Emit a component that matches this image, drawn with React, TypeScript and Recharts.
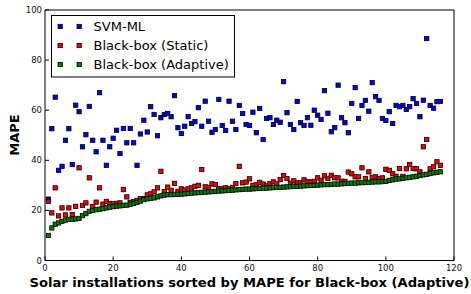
import React from 'react';
import {
  ScatterChart,
  Scatter,
  XAxis,
  YAxis,
  CartesianGrid,
  ReferenceArea,
} from 'recharts';

// x positions: installations sorted by MAPE for Black-box (Adaptive)
const installationIndex: number[] = Array.from({ length: 116 }, (_, i) => i + 1);

const svmML: number[] = [
  24.5, 52.6, 65.2, 36, 37.6, 48, 52.6, 38.3, 62, 59.4,
  45.4, 50.2, 61.5, 48, 43.4, 67, 48, 38, 45.4, 48.8,
  52, 42.7, 52.7, 47, 52.7, 47, 38, 50.5, 56, 51.3,
  61.4, 58.3, 49.8, 57, 58.3, 58.7, 57.4, 65.8, 53, 50.7,
  53.6, 57.4, 54.7, 55.4, 61, 53.6, 63.6, 55.6, 51.2, 52.3,
  64.3, 53.9, 51.9, 63.6, 55.6, 52.3, 61.9, 58.7, 54.3, 53.9,
  59.2, 51, 60.7, 48.3, 56.7, 57, 54.3, 56, 55.2, 71.4,
  59, 54.3, 52.3, 63.5, 55, 53.9, 57, 54, 60, 58,
  56.3, 67.8, 58.8, 51.4, 53, 70, 57, 55, 51, 62.7,
  69, 56.7, 61.9, 63.9, 59.6, 71, 65.4, 63.9, 56.7, 55.9,
  59.4, 54.7, 61.9, 61.4, 61.9, 60.3, 61.4, 64.6, 62.7, 57.4,
  64, 88.6, 61.9, 60.8, 63.4, 63.5,
];

const blackBoxStatic: number[] = [
  23.6, 19, 29, 17.8, 21, 18.2, 21, 18.3, 21.6, 37,
  22, 23, 33, 21.5, 23.3, 29, 22.5, 23.6, 22.8, 22.6,
  22.8, 23, 28.3, 25.4, 23.2, 23.5, 24, 24.7, 24.7, 26.2,
  26.6, 27.4, 29, 35.6, 27.5, 29.3, 28, 30.8, 27.6, 28.6,
  28.1, 28.6, 29, 29.6, 30, 36.3, 29.4, 29.2, 30.6, 30.3,
  28.7, 28.7, 29, 28.6, 29.2, 30.7, 37.6, 31, 31.3, 32.6,
  30, 30.2, 31.2, 30.5, 29.8, 30.7, 31.4, 30.6, 32.3, 33.9,
  32.7, 30.8, 31.8, 31, 31, 32.2, 31.4, 31.4, 31.6, 33,
  32, 33.8, 32.8, 34, 33, 33, 31.6, 31.6, 35.3, 34.6,
  33.4, 33.4, 37, 32.7, 35.4, 33.2, 33.4, 32.6, 33, 36.4,
  36, 34.6, 33.6, 36.7, 33.6, 36.6, 38.3, 36.7, 36.6, 35.4,
  45.4, 48.3, 36.6, 37.4, 39.4, 38,
];

const blackBoxAdaptive: number[] = [
  10, 13, 14.5, 15, 15.6, 16.1, 16.4, 16.5, 16.6, 16.8,
  17.9, 18.7, 19.6, 20, 20.3, 20.5, 20.7, 21, 21.3, 21.5,
  21.7, 21.8, 22, 22.1, 22.4, 22.8, 23.2, 23.7, 24.3, 24.6,
  24.8, 25, 25.4, 25.8, 26.1, 26.3, 26.3, 26.4, 26.4, 26.5,
  26.6, 26.8, 26.9, 27, 27.1, 27.2, 27.3, 27.4, 27.5, 27.6,
  27.7, 27.8, 27.9, 28, 28.1, 28.2, 28.3, 28.4, 28.5, 28.5,
  28.6, 28.7, 28.8, 28.9, 28.9, 29, 29.1, 29.2, 29.2, 29.3,
  29.4, 29.5, 29.6, 29.6, 29.7, 29.8, 29.9, 30, 30, 30.1,
  30.2, 30.3, 30.3, 30.4, 30.5, 30.5, 30.6, 30.7, 30.8, 30.9,
  30.9, 31, 31.1, 31.1, 31.2, 31.3, 31.4, 31.4, 31.5, 31.6,
  32, 32.2, 32.5, 32.6, 32.8, 33, 33.2, 33.4, 33.6, 33.9,
  34.2, 34.4, 34.7, 35, 35.2, 35.4,
];

const xTicks = [0, 20, 40, 60, 80, 100, 120];
const yTicks = [0, 20, 40, 60, 80, 100];

const seriesNames = ['SVM-ML', 'Black-box (Static)', 'Black-box (Adaptive)'];
const seriesColors = ['#0000ff', '#ff0000', '#008000'];

const toPoints = (vals: number[]) =>
  vals.map((v, i) => ({ x: installationIndex[i], y: v }));

const FONT = '"DejaVu Sans", sans-serif';
const SQ = 4.3;

const makeSquare = (color: string) => (props: any) => {
  const { cx, cy } = props;
  if (cx == null || cy == null) return <g />;
  return (
    <rect
      x={cx - SQ / 2}
      y={cy - SQ / 2}
      width={SQ}
      height={SQ}
      fill={color}
      stroke="#000"
      strokeWidth={0.8}
    />
  );
};

const emptyTick = () => <g />;

export default function App() {
  const W = 471;
  const H = 294;
  const tickStyle = { fontSize: 8.5, fontFamily: FONT, fill: '#111' };
  return (
    <div style={{ position: 'absolute', left: 0, top: 0, width: W, height: H, background: '#fff' }}>
      <ScatterChart
        width={W}
        height={H}
        margin={{ top: 10, right: 17, bottom: 0, left: 0 }}
      >
        <CartesianGrid
          stroke="#333"
          strokeDasharray="1 2"
          strokeWidth={0.7}
          horizontalValues={yTicks}
          verticalValues={xTicks}
        />
        <XAxis
          type="number"
          dataKey="x"
          xAxisId="b"
          domain={[0, 120]}
          ticks={xTicks}
          height={33.5}
          tickSize={-4}
          tickMargin={8}
          axisLine={false}
          tickLine={{ stroke: '#000' }}
          tick={tickStyle}
          allowDataOverflow
          label={() => (
            <text
              x={249.5}
              y={287}
              textAnchor="middle"
              fontFamily={FONT}
              fontWeight="bold"
              fontSize={13.1}
              fill="#000"
            >
              Solar installations sorted by MAPE for Black-box (Adaptive)
            </text>
          )}
        />
        <XAxis
          type="number"
          dataKey="x"
          xAxisId="t"
          orientation="top"
          domain={[0, 120]}
          ticks={xTicks}
          height={0}
          tickSize={-4}
          axisLine={false}
          tickLine={{ stroke: '#000' }}
          tick={emptyTick}
          allowDataOverflow
        />
        <YAxis
          type="number"
          dataKey="y"
          yAxisId="l"
          domain={[0, 100]}
          ticks={yTicks}
          width={45}
          tickSize={-4}
          tickMargin={7}
          axisLine={false}
          tickLine={{ stroke: '#000' }}
          tick={tickStyle}
          allowDataOverflow
          label={() => (
            <text
              x={18.5}
              y={135}
              transform="rotate(-90 18.5 135)"
              textAnchor="middle"
              fontFamily={FONT}
              fontWeight="bold"
              fontSize={13}
              fill="#000"
            >
              MAPE
            </text>
          )}
        />
        <YAxis
          type="number"
          dataKey="y"
          yAxisId="r"
          orientation="right"
          domain={[0, 100]}
          ticks={yTicks}
          width={0}
          tickSize={-4}
          axisLine={false}
          tickLine={{ stroke: '#000' }}
          tick={emptyTick}
          allowDataOverflow
        />
        <ReferenceArea
          xAxisId="b"
          yAxisId="l"
          x1={0}
          x2={120}
          y1={0}
          y2={100}
          fill="none"
          fillOpacity={0}
          stroke="#000"
          strokeWidth={1}
          ifOverflow="visible"
        />
        <Scatter
          name={seriesNames[0]}
          xAxisId="b"
          yAxisId="l"
          data={toPoints(svmML)}
          shape={makeSquare(seriesColors[0])}
          isAnimationActive={false}
        />
        <Scatter
          name={seriesNames[1]}
          xAxisId="b"
          yAxisId="l"
          data={toPoints(blackBoxStatic)}
          shape={makeSquare(seriesColors[1])}
          isAnimationActive={false}
        />
        <Scatter
          name={seriesNames[2]}
          xAxisId="b"
          yAxisId="l"
          data={toPoints(blackBoxAdaptive)}
          shape={makeSquare(seriesColors[2])}
          isAnimationActive={false}
        />
      </ScatterChart>
      <svg
        width={185}
        height={63}
        style={{ position: 'absolute', left: 51, top: 14.5 }}
      >
        <rect x={0.5} y={0.5} width={183} height={61.5} fill="#fff" stroke="#000" strokeWidth={1} />
        {seriesNames.map((name, i) => {
          const cy = 11.5 + i * 19;
          return (
            <g key={name}>
              <rect x={9.2 - SQ / 2} y={cy - SQ / 2} width={SQ} height={SQ} fill={seriesColors[i]} stroke="#000" strokeWidth={0.8} />
              <rect x={28.2 - SQ / 2} y={cy - SQ / 2} width={SQ} height={SQ} fill={seriesColors[i]} stroke="#000" strokeWidth={0.8} />
              <text x={42.6} y={cy + 4.7} fontFamily={FONT} fontSize={13} fill="#000">
                {name}
              </text>
            </g>
          );
        })}
      </svg>
    </div>
  );
}
